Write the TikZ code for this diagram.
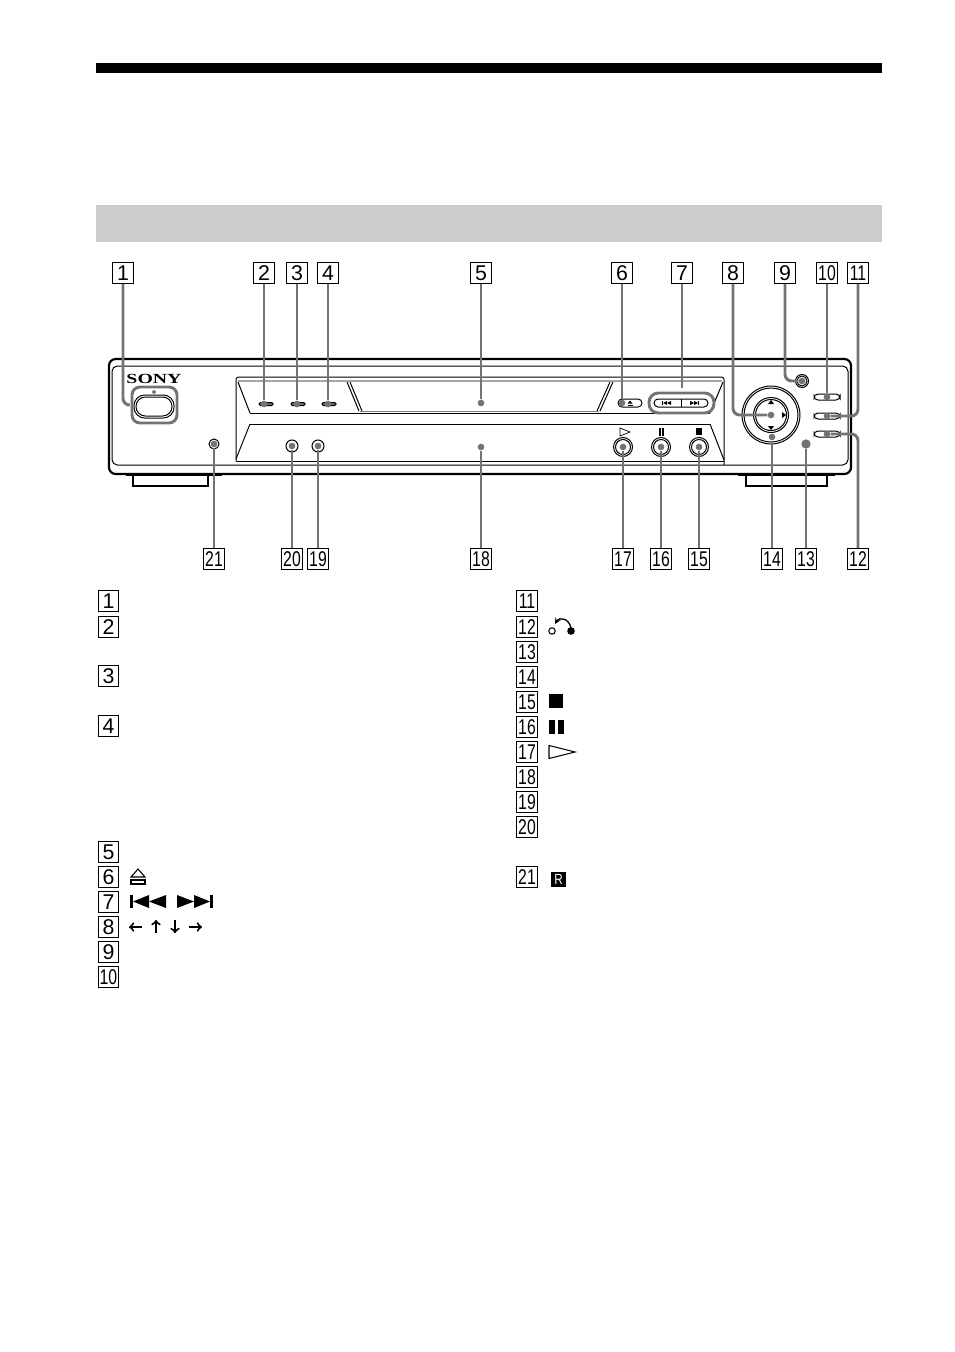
\documentclass[tikz,border=0pt]{standalone}
\usepackage{graphicx}
\usepackage{fontspec}
\setmainfont{Liberation Sans}
\newfontfamily\logofont{Liberation Serif}
\newcommand{\nn}[1]{\scalebox{0.74}[1]{#1}}
\begin{document}
\begin{tikzpicture}[x=0.75pt,y=-0.75pt,>=stealth,
numbox/.style = {draw, line width = 0.9pt, fill = white, minimum width = 15.5pt, minimum height = 15.5pt, inner sep = 0pt, font = \fontsize{16}{16}\selectfont},
lead/.style = {draw = leadgray, line width = 2.2pt},
point/.style = {circle, fill = leadgray, inner sep = 0pt, minimum size = 5pt},
panel/.style = {line width = 0.75pt},
key/.style = {draw, line width = 0.75pt, rounded corners = 3pt},
ring/.style = {draw, line width = 0.75pt},
]
\definecolor{leadgray}{gray}{0.45}
\useasboundingbox (0,0) rectangle (954,1352);
\fill (96,63) rectangle (882,73);
\fill[black!20] (96,205) rectangle (882,242);
% feet
\draw[line width = 1.1pt] (133,475)--(133,486)--(208,486)--(208,475);
\draw[line width = 1.1pt] (746,475)--(746,486)--(827,486)--(827,475);
\draw[line width = 1.5pt] (126,475)--(222,475);
\draw[line width = 1.5pt] (738,475)--(835,475);
% body
\draw[line width = 1.6pt, rounded corners = 5pt] (109,359) rectangle (851,474);
\draw[panel, rounded corners = 4pt] (112,366) rectangle (848,465);
% tray
\draw[panel, rounded corners = 2pt] (236,461)--(236,377)--(724,377)--(724,465);
\draw[draw = black!35, line width = 0.8pt] (238,381)--(722,381);
\draw[panel] (250,413)--(710,413);
\draw[panel] (250,424)--(710,424);
\draw[panel] (236,461)--(724,461);
\draw[panel] (238,382)--(250,413);
\draw[panel] (250,424)--(236,459);
\draw[panel] (723,382)--(710,413);
\draw[panel] (710,424)--(724,460);
\draw[panel] (347,382)--(359,411);
\draw[panel] (350,382)--(362,411);
\draw[panel] (613,382)--(600,411);
\draw[panel] (610,382)--(597,411);
\draw[draw = black!50, line width = 0.6pt] (360,411)--(599,411);
% front of the unit
\node (logo) at (154,379) {\logofont\bfseries\fontsize{11}{11}\selectfont\scalebox{1.35}[0.95]{SONY}};
\draw[line width = 0.4pt] (154,392) circle (1.5);
\draw[panel, rounded corners = 8pt] (134,395) rectangle (174,418);
\draw[panel, rounded corners = 7pt] (136,397) rectangle (172,416);
\draw[lead, rounded corners = 6pt] (132,387) rectangle (177,423);
\draw[panel, fill = leadgray, rounded corners = 1pt] (259,402.5) rectangle (273,405.5);
\draw[panel, fill = leadgray, rounded corners = 1pt] (291,402.5) rectangle (305,405.5);
\draw[panel, fill = leadgray, rounded corners = 1pt] (322,402.5) rectangle (336,405.5);
\draw[key] (618,399) rectangle (642,407);
\draw[key] (654,399) rectangle (708,407);
\draw[panel] (681,399)--(681,407);
\fill (630,400.5)--(632.5,403.5)--(627.5,403.5)--cycle;
\fill (627.5,404.5) rectangle (632.5,405.5);
\fill (662,401) rectangle (663,405);
\fill (663,403)--(667,401)--(667,405)--cycle;
\fill (667,403)--(671,401)--(671,405)--cycle;
\fill (690,401)--(694,403)--(690,405)--cycle;
\fill (694,401)--(698,403)--(694,405)--cycle;
\fill (698,401) rectangle (699,405);
\draw[lead, rounded corners = 7pt] (649,393) rectangle (714,413);
\draw[key] (814,394) rectangle (840,400);
\draw[key] (814,413) rectangle (840,419);
\draw[key] (814,431) rectangle (840,437);
\draw[ring] (214,444) circle (5);
\draw[ring] (292,446) circle (6);
\draw[ring] (318,446) circle (6);
\foreach \kx in {623,661,699} {
\draw[ring] (\kx,447) circle (9.5);
\draw[ring] (\kx,447) circle (7.5);
}
\draw[line width = 0.5pt] (620,428)--(620,436)--(630,432)--cycle;
\fill (659,428) rectangle (660.5,436);
\fill (662,428) rectangle (663.5,436);
\fill (696,428) rectangle (702,435);
\draw[ring] (771,415) circle (29);
\draw[ring] (771,415) circle (27);
\draw[ring] (771,415) circle (17.5);
\draw[ring] (771,415) circle (15.5);
\draw[ring] (802,381) circle (6.5);
\draw[ring] (802,381) circle (5);
\fill (771,400)--(774,404)--(768,404)--cycle;
\fill (786,415)--(782,418)--(782,412)--cycle;
\fill (771,430)--(774,426)--(768,426)--cycle;
% connector ends
\node (P1) at (131,405) {};
\node (P2) at (264,404)[point] {};
\node (P3) at (297,404)[point] {};
\node (P4) at (328,404)[point] {};
\node (P5) at (481,403)[point] {};
\node (P6) at (622,403)[point] {};
\node (P7) at (682,393) {};
\node (P8) at (771,415)[point] {};
\node (P9) at (802,381)[point] {};
\node (P10) at (827,397)[point] {};
\node (P11) at (827,416)[point] {};
\node (P12) at (827,434)[point] {};
\node (P13) at (806,444)[point, minimum size = 7pt] {};
\node (P14) at (772,437)[point] {};
\node (P15) at (699,447)[point] {};
\node (P16) at (661,447)[point] {};
\node (P17) at (623,447)[point] {};
\node (P18) at (481,447)[point] {};
\node (P19) at (318,446)[point] {};
\node (P20) at (292,446)[point] {};
\node (P21) at (214,444)[point] {};
% numbers above and below the unit
\node (T1) at (123,273)[numbox] {1};
\node (T2) at (264,273)[numbox] {2};
\node (T3) at (297,273)[numbox] {3};
\node (T4) at (328,273)[numbox] {4};
\node (T5) at (481,273)[numbox] {5};
\node (T6) at (622,273)[numbox] {6};
\node (T7) at (682,273)[numbox] {7};
\node (T8) at (733,273)[numbox] {8};
\node (T9) at (785,273)[numbox] {9};
\node (T10) at (827,273)[numbox] {\nn{10}};
\node (T11) at (858,273)[numbox] {\nn{11}};
\node (B12) at (858,559)[numbox] {\nn{12}};
\node (B13) at (806,559)[numbox] {\nn{13}};
\node (B14) at (772,559)[numbox] {\nn{14}};
\node (B15) at (699,559)[numbox] {\nn{15}};
\node (B16) at (661,559)[numbox] {\nn{16}};
\node (B17) at (623,559)[numbox] {\nn{17}};
\node (B18) at (481,559)[numbox] {\nn{18}};
\node (B19) at (318,559)[numbox] {\nn{19}};
\node (B20) at (292,559)[numbox] {\nn{20}};
\node (B21) at (214,559)[numbox] {\nn{21}};
\draw[lead, rounded corners = 5pt] (T1) |- (P1);
\draw[lead] (T2)--(P2);
\draw[lead] (T3)--(P3);
\draw[lead] (T4)--(P4);
\draw[lead] (T5)--(P5);
\draw[lead] (T6)--(P6);
\draw[lead] (T7)--(P7);
\draw[lead, rounded corners = 5pt] (T8) |- (P8);
\draw[lead, rounded corners = 5pt] (T9) |- (P9);
\draw[lead] (T10)--(P10);
\draw[lead, rounded corners = 5pt] (T11) |- (P11);
\draw[lead, rounded corners = 5pt] (P12) -| (B12);
\draw[lead] (B13)--(P13);
\draw[lead] (B14)--(P14);
\draw[lead] (B15)--(P15);
\draw[lead] (B16)--(P16);
\draw[lead] (B17)--(P17);
\draw[lead] (B18)--(P18);
\draw[lead] (B19)--(P19);
\draw[lead] (B20)--(P20);
\draw[lead] (B21)--(P21);
% list, left column
\node (L1) at (108.5,601)[numbox] {1};
\node (L2) at (108.5,627)[numbox] {2};
\node (L3) at (108.5,676)[numbox] {3};
\node (L4) at (108.5,726)[numbox] {4};
\node (L5) at (108.5,852)[numbox] {5};
\node (L6) at (108.5,877)[numbox] {6};
\node (L7) at (108.5,902)[numbox] {7};
\node (L8) at (108.5,927)[numbox] {8};
\node (L9) at (108.5,952)[numbox] {9};
\node (L10) at (108.5,977)[numbox] {\nn{10}};
% list, right column
\node (R11) at (527,601)[numbox] {\nn{11}};
\node (R12) at (527,627)[numbox] {\nn{12}};
\node (R13) at (527,652)[numbox] {\nn{13}};
\node (R14) at (527,677)[numbox] {\nn{14}};
\node (R15) at (527,702)[numbox] {\nn{15}};
\node (R16) at (527,727)[numbox] {\nn{16}};
\node (R17) at (527,752)[numbox] {\nn{17}};
\node (R18) at (527,777)[numbox] {\nn{18}};
\node (R19) at (527,802)[numbox] {\nn{19}};
\node (R20) at (527,827)[numbox] {\nn{20}};
\node (R21) at (527,877)[numbox] {\nn{21}};
% symbols of the list
\draw[line width = 0.8pt] (138,869)--(145,877)--(131,877)--cycle;
\draw[line width = 0.8pt] (131,880) rectangle (145,884);
\fill (130,895) rectangle (133,908);
\fill (133,901.5)--(149,895)--(149,908)--cycle;
\fill (149,901.5)--(166,895)--(166,908)--cycle;
\fill (177,895)--(194,901.5)--(177,908)--cycle;
\fill (194,895)--(210,901.5)--(194,908)--cycle;
\fill (210,895) rectangle (213,908);
\draw[-to, line width = 1.5pt] (142,927)--(129,927);
\draw[-to, line width = 1.5pt] (156,933)--(156,920);
\draw[-to, line width = 1.5pt] (175,920)--(175,933);
\draw[-to, line width = 1.5pt] (189,927)--(202,927);
\draw[line width = 0.8pt] (552,631) circle (3.2);
\fill (571,631) circle (3.8);
\draw[->, line width = 1pt] (571,628) .. controls (569,618) and (559,617) .. (555,624);
\fill (549,694) rectangle (563,708);
\fill (549,720) rectangle (554.5,734);
\fill (558,720) rectangle (563.5,734);
\draw[line width = 0.8pt] (549,745.5)--(549,758.5)--(575,752)--cycle;
\fill (551,872) rectangle (566,887);
\node (ir) at (558.5,879.5)[text = white, inner sep = 0pt, font = \fontsize{11}{11}\selectfont] {\scalebox{0.8}[1]{R}};
\end{tikzpicture}
\end{document}
